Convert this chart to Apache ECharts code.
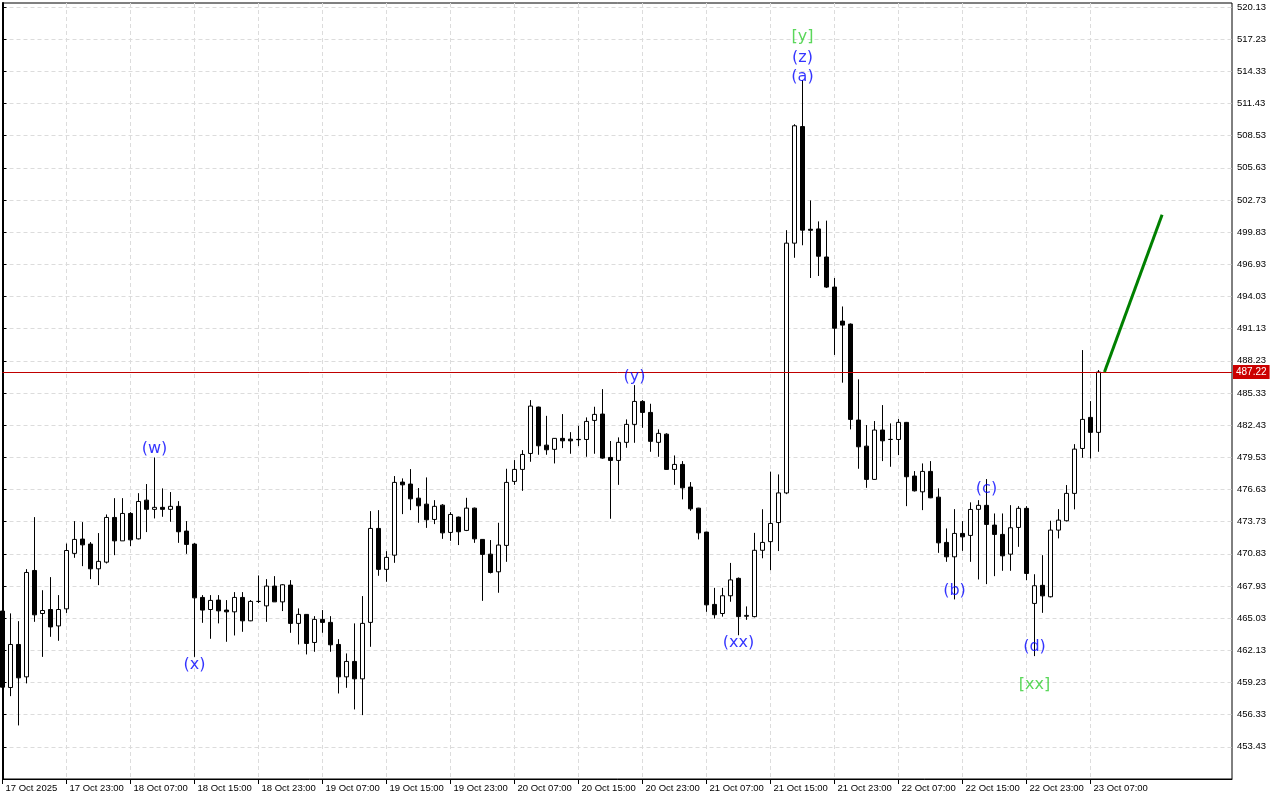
<!DOCTYPE html>
<html><head><meta charset="utf-8">
<script src="https://cdn.jsdelivr.net/npm/echarts@6/dist/echarts.min.js"></script>
<style>html,body{margin:0;padding:0;background:#fff}#c{width:1280px;height:800px}</style>
</head><body><div id="c"></div>
<script>
const timeLabels = ['17 Oct 2025','17 Oct 23:00','18 Oct 07:00','18 Oct 15:00','18 Oct 23:00','19 Oct 07:00','19 Oct 15:00','19 Oct 23:00','20 Oct 07:00','20 Oct 15:00','20 Oct 23:00','21 Oct 07:00','21 Oct 15:00','21 Oct 23:00','22 Oct 07:00','22 Oct 15:00','22 Oct 23:00','23 Oct 07:00'];

const opens = [465.67,458.78,462.66,459.74,469.33,465.45,465.81,464.33,465.87,470.87,
472.16,471.71,469.48,470.08,474.11,472.00,474.47,472.18,475.67,474.84,
475.02,474.84,475.11,472.88,471.71,466.90,465.81,466.66,465.76,465.60,
466.90,464.79,466.54,466.14,467.92,466.50,468.01,464.56,465.37,462.84,
464.92,464.65,462.66,459.74,461.13,459.56,464.65,473.12,469.43,470.71,
477.30,477.12,475.85,475.31,473.93,475.22,472.76,474.14,472.94,474.95,
472.13,470.80,469.21,471.59,477.36,478.44,479.88,484.06,480.63,480.25,
481.24,481.17,481.15,481.14,482.86,483.43,479.52,479.25,480.88,482.50,
484.57,483.58,480.88,481.62,478.44,478.89,476.85,474.95,472.79,466.27,
465.45,467.05,468.62,465.20,465.17,471.15,471.93,473.65,476.32,498.84,
509.35,500.09,500.12,497.59,494.88,491.81,491.54,482.89,480.54,477.54,
481.99,481.15,481.14,482.68,477.84,476.42,478.26,475.94,471.86,470.56,
472.67,472.49,474.84,475.20,473.42,472.58,470.80,473.21,474.93,466.36,
467.99,466.96,472.97,473.81,476.28,480.33,483.13,481.78];

const closes = [458.81,462.66,459.65,469.15,465.33,465.72,464.24,465.81,471.13,472.13,
471.64,469.48,470.15,474.11,472.00,474.47,472.09,475.55,474.84,475.02,
474.84,475.11,472.82,471.68,466.86,465.76,466.63,465.69,465.60,466.90,
464.79,466.54,466.54,467.92,466.50,468.04,464.56,465.37,462.75,464.92,
464.65,462.63,459.74,461.13,459.56,464.56,473.12,469.43,470.51,477.27,
477.05,475.79,475.16,473.90,475.11,472.72,474.38,472.82,474.95,472.18,
470.78,469.15,471.62,477.27,478.44,479.79,484.15,480.57,480.21,481.24,
481.02,481.02,481.12,482.77,483.40,479.46,479.25,480.88,482.50,484.57,
483.58,480.97,481.69,478.44,478.89,476.78,474.89,472.72,466.23,465.34,
467.05,468.48,465.17,465.28,471.15,471.86,473.57,476.32,498.84,509.42,
500.01,500.00,497.66,494.88,491.17,491.45,482.95,480.48,477.54,481.99,
481.02,481.14,482.68,477.78,476.51,478.26,475.88,471.82,470.56,472.67,
472.36,474.83,475.20,473.48,472.58,470.65,473.18,474.93,469.06,467.95,
467.04,472.97,473.87,476.28,480.27,482.95,481.78,487.22];

const lows = [458.36,458.00,455.36,459.15,464.70,461.54,463.35,462.99,465.50,470.47,
469.72,468.55,468.01,469.96,470.71,472.00,471.52,472.13,472.79,474.02,
474.17,473.72,471.82,470.83,461.54,464.61,463.17,464.56,462.90,463.47,
463.80,464.76,466.39,464.70,466.50,465.67,463.71,462.66,461.76,462.00,
463.71,462.00,458.24,458.75,456.80,456.29,462.45,468.85,468.31,470.02,
474.41,474.77,473.63,473.17,473.51,472.18,472.00,471.62,472.88,471.82,
466.59,469.06,467.32,470.11,477.05,476.51,479.13,479.76,479.76,478.98,
480.36,479.85,480.54,479.58,479.85,479.40,473.99,477.05,480.39,480.84,
482.19,480.03,479.58,478.40,477.05,475.74,474.71,472.13,465.60,464.99,
465.17,466.51,463.49,464.88,465.10,470.43,469.36,471.08,476.21,497.52,
498.65,495.70,495.88,494.80,488.76,486.26,482.05,478.50,476.78,477.50,
479.19,478.68,479.73,475.13,476.45,474.77,475.85,470.92,470.11,466.72,
471.10,470.11,468.52,468.10,468.82,469.30,469.30,471.46,468.46,461.61,
465.51,466.90,472.22,473.75,474.84,479.49,479.43,480.03];

const highs = [466.39,465.46,464.76,469.45,474.14,467.55,468.73,467.11,471.76,473.78,
473.69,471.89,472.70,474.38,475.85,475.85,474.59,476.30,477.12,479.52,
476.73,476.40,475.58,473.78,471.80,467.11,467.11,467.11,466.66,467.38,
467.38,466.66,468.88,468.55,468.82,468.10,468.46,465.91,465.40,465.21,
465.76,465.21,463.14,461.85,464.56,467.02,474.68,474.77,471.07,477.84,
477.63,478.47,476.76,477.72,475.67,475.31,474.59,474.19,475.88,475.00,
472.16,472.07,473.63,478.50,479.28,480.18,484.69,484.10,483.27,481.27,
483.43,481.80,482.37,483.13,484.09,485.68,481.00,481.33,482.95,486.04,
484.69,484.36,482.05,481.70,479.70,479.19,477.30,474.98,472.82,467.76,
467.76,470.01,468.70,466.09,472.72,474.85,478.24,477.99,500.01,509.56,
513.54,502.69,500.80,500.87,495.70,493.13,491.60,486.56,482.44,482.80,
484.24,482.59,482.98,482.72,478.29,478.98,479.19,476.73,473.12,474.86,
473.78,475.47,475.67,477.57,474.47,474.47,475.22,475.13,475.13,468.99,
470.71,473.81,474.86,477.03,480.72,489.20,484.60,487.40];

const yTicks = [520.13,517.23,514.33,511.43,508.53,505.63,502.73,499.83,496.93,494.03,491.13,488.23,
485.33,482.43,479.53,476.63,473.73,470.83,467.93,465.03,462.13,459.23,456.33,453.43];

const lastPrice = 487.22;
const projX = [137.75, 144.95];
const projY = [487.22, 501.4];

const waveText  = ['(w)','(x)','(y)','(xx)','[y]','(z)','(a)','(b)','(c)','(d)','[xx]'];
const waveIdx   = [19, 24, 79, 92, 100, 100, 100, 119, 123, 129, 129];
const wavePrice = [480.27, 460.80, 486.77, 462.78, 517.42, 515.53, 513.82, 467.47, 476.67, 462.42, 459.00];
const waveColor = ['#0000ff','#0000ff','#0000ff','#0000ff','#32cd32','#0000ff','#0000ff','#0000ff','#0000ff','#0000ff','#32cd32'];

const FONT = 'Liberation Sans';
const candleData = opens.map((o, i) => [i, o, closes[i], lows[i], highs[i]]);
const labelIdx = timeLabels.map((_, k) => k * 8);
const gridStyle = {color: '#dcdcdc', type: [4, 3], width: 1};

const chart = echarts.init(document.getElementById('c'), null, {renderer: 'canvas', width: 1280, height: 800});
chart.setOption({
  animation: false,
  backgroundColor: '#ffffff',
  grid: {left: 2.5, right: 48, top: 3, bottom: 21, show: true, borderColor: '#000', borderWidth: 1, backgroundColor: 'transparent'},
  xAxis: {
    type: 'value', min: 0, max: 153.69, interval: 4,
    axisLine: {show: true, onZero: false, lineStyle: {color: '#000', width: 1}},
    axisTick: {show: true, customValues: labelIdx, length: 5, lineStyle: {color: '#000'}},
    axisLabel: {customValues: labelIdx, formatter: v => timeLabels[Math.round(v / 8)] || '', align: 'left',
      margin: 4, padding: [0, 0, 0, 3], fontFamily: FONT, fontSize: 9.5, color: '#000'},
    splitLine: {show: true, lineStyle: gridStyle}
  },
  yAxis: {
    type: 'value', position: 'right', min: 450.53, max: 520.49, interval: 2.9,
    axisLine: {show: true, lineStyle: {color: '#000', width: 2}},
    axisTick: {show: true, customValues: yTicks, length: 4, lineStyle: {color: '#000'}},
    axisLabel: {customValues: yTicks, formatter: v => v.toFixed(2), margin: 5, fontFamily: FONT, fontSize: 9.5, color: '#000'},
    splitLine: {show: true, lineStyle: gridStyle}
  },
  series: [
    {
      type: 'candlestick', data: candleData, encode: {x: 0, y: [1, 2, 3, 4]},
      barWidth: 4, clip: false, silent: true,
      itemStyle: {color: '#ffffff', color0: '#000000', borderColor: '#000000', borderColor0: '#000000', borderColorDoji: '#000000', borderWidth: 1},
      markLine: {
        silent: true, symbol: ['none', 'none'], animation: false,
        data: [{yAxis: lastPrice}],
        lineStyle: {color: '#c00000', width: 1, type: 'solid'},
        label: {show: true, position: 'end', distance: 1, formatter: lastPrice.toFixed(2),
          backgroundColor: '#cc0000', color: '#ffffff', padding: [2, 3, 2, 3], fontFamily: FONT, fontSize: 10},
        emphasis: {disabled: true}
      }
    },
    {
      type: 'line', data: projX.map((x, k) => [x, projY[k]]), symbol: 'none', silent: true, z: 5,
      lineStyle: {color: '#008000', width: 3}
    },
    {
      type: 'scatter', symbolSize: 1, silent: true, z: 6,
      itemStyle: {color: 'rgba(0,0,0,0)'},
      data: waveText.map((t, k) => ({value: [waveIdx[k], wavePrice[k]], label: {formatter: t, color: waveColor[k]}})),
      label: {show: true, position: 'inside', fontFamily: 'DejaVu Sans', fontSize: 16}
    }
  ]
});
</script>
</body></html>
